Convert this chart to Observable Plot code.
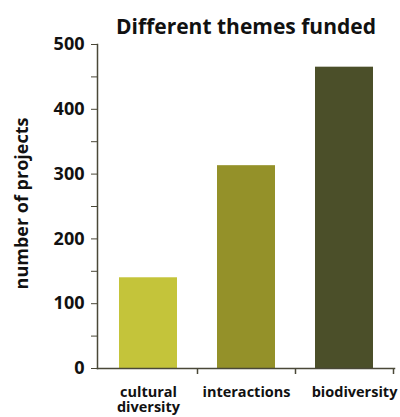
<!DOCTYPE html>
<html>
<head>
<meta charset="utf-8">
<script src="https://cdn.jsdelivr.net/npm/d3@7"></script>
<script src="https://cdn.jsdelivr.net/npm/@observablehq/plot@0.6"></script>
<style>
  html, body { margin: 0; padding: 0; background: #fff; }
  svg { font-family: "Open Sans", sans-serif; }
</style>
</head>
<body>
<div id="chart"></div>
<script>
const categories = ["cultural\ndiversity", "interactions", "biodiversity"];
const projects = [140, 313, 465];
const colors = ["#c4c43a", "#949129", "#4b4f29"];
const majorTicks = [0, 100, 200, 300, 400, 500];
const minorTicks = [50, 150, 250, 350, 450];
const title = "Different themes funded";
const yLabel = "number of projects";

const data = categories.map((c, i) => ({category: c, value: projects[i], color: colors[i]}));
const axisColor = "#4a4838";
const labelStyle = {tickSize: 0, tickPadding: 18, fontSize: 14.5, fontWeight: "bold", fill: "#111", lineHeight: 1.02, label: null};

const chart = Plot.plot({
  width: 400,
  height: 417,
  marginLeft: 97,
  marginRight: 6,
  marginTop: 44,
  marginBottom: 49,
  style: {fontFamily: "Open Sans, sans-serif", fontWeight: "bold", color: "#111"},
  x: {domain: categories, paddingInner: 0.41, paddingOuter: 0.21, axis: null},
  y: {domain: [0, 500], axis: null},
  marks: [
    Plot.barY(data, {x: "category", y: "value", fill: "color"}),
    // x axis labels
    Plot.axisX({...labelStyle, ticks: categories.slice(0, 2)}),
    Plot.axisX({...labelStyle, ticks: categories.slice(2), dx: 10}),
    // boundary ticks between categories
    Plot.axisX({tickSize: 6, tickFormat: () => "", stroke: axisColor, strokeWidth: 1.5, dx: 49, label: null}),
    // y axis major ticks
    Plot.axisY({ticks: majorTicks, tickSize: 6, tickPadding: 7, fontSize: 18, fontWeight: "bold", fill: "#111", stroke: axisColor, label: null}),
    Plot.axisY({ticks: minorTicks, tickSize: 6, tickFormat: () => "", stroke: axisColor, label: null}),
    // axis lines
    Plot.frame({anchor: "left", stroke: axisColor, strokeWidth: 1.5}),
    Plot.frame({anchor: "bottom", stroke: axisColor, strokeWidth: 1.5}),
    Plot.text([yLabel], {frameAnchor: "left", dx: -75, dy: -3, rotate: -90, textAnchor: "middle", fontSize: 18, fontWeight: "bold", fill: "#111"}),
    Plot.text([title], {frameAnchor: "top", dy: -25, fontSize: 21, fontWeight: "bold", fill: "#111"})
  ]
});
document.getElementById("chart").append(chart);
</script>
</body>
</html>
